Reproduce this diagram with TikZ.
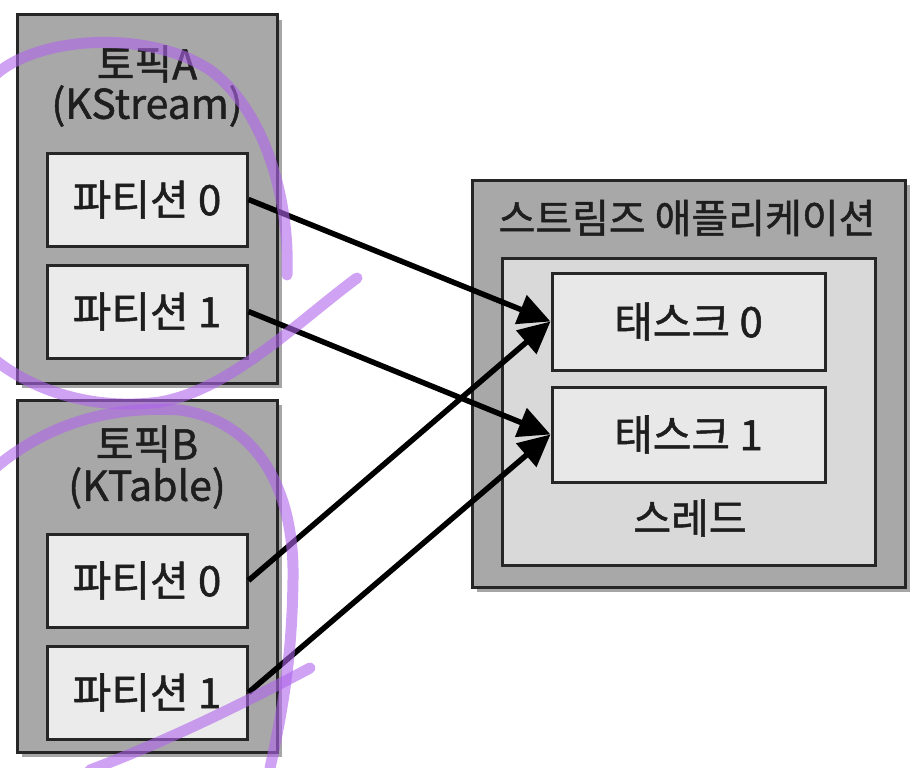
\documentclass[tikz,border=0pt]{standalone}
\usepackage{fontspec}
\setmainfont[FakeBold=1.2]{Noto Sans CJK KR}
\usetikzlibrary{shadows,arrows.meta}
\definecolor{outergray}{HTML}{A8A8A8}
\definecolor{partfill}{HTML}{EBEBEB}
\definecolor{threadfill}{HTML}{D9D9D9}
\definecolor{taskfill}{HTML}{E8E8E8}
\definecolor{txt}{HTML}{1E1E1E}
\definecolor{pen}{RGB}{175,100,235}
\tikzset{
  basebox/.style={draw=black!85, line width=3pt, inner sep=0pt},
  outerbox/.style={basebox, fill=outergray, drop shadow={shadow xshift=5pt, shadow yshift=-5pt, opacity=0.35, fill=black}},
  partbox/.style={basebox, fill=partfill, minimum width=200pt, minimum height=93pt, font=\fontsize{42}{46}\selectfont, text=txt},
  threadbox/.style={basebox, fill=threadfill},
  taskbox/.style={basebox, fill=taskfill, minimum width=273pt, font=\fontsize{42}{46}\selectfont, text=txt},
  label/.style={inner sep=0pt, font=\fontsize{41}{45}\selectfont, text=txt},
  conn/.style={line width=5.5pt, -{Triangle[length=32pt,width=30pt]}},
  penstroke/.style={pen, opacity=0.6, line width=11pt, line cap=round, line join=round}
}
\begin{document}
\begin{tikzpicture}[x=1pt,y=-1pt]
\useasboundingbox (0,0) rectangle (922,768);
\fill[white] (0,0) rectangle (922,768);
% topic A
\node[outerbox, minimum width=260pt, minimum height=368pt] (topA) at (147,199) {};
\node[label] (topAt) at (147,64) {토픽A};
\node[label] (topAk) at (147,106) {(KStream)};
\node[partbox] (a0) at (147,199.5) {파티션 0};
\node[partbox] (a1) at (147,311.5) {파티션 1};
% topic B
\node[outerbox, minimum width=260pt, minimum height=352pt] (topB) at (147,576) {};
\node[label] (topBt) at (147,444) {토픽B};
\node[label] (topBk) at (147,488) {(KTable)};
\node[partbox] (b0) at (147,580.5) {파티션 0};
\node[partbox] (b1) at (147,692.5) {파티션 1};
% application
\node[outerbox, minimum width=433pt, minimum height=407pt] (app) at (688.5,383.5) {};
\node[label, font=\fontsize{40}{44}\selectfont] (appt) at (687,218) {스트림즈 애플리케이션};
\node[threadbox, minimum width=373pt, minimum height=307pt] (thr) at (688.5,411.5) {};
\node[taskbox, minimum height=97pt] (t0) at (688.5,321.5) {태스크 0};
\node[taskbox, minimum height=95pt] (t1) at (688.5,434.5) {태스크 1};
\node[label] (thrt) at (690,518) {스레드};
% connectors
\draw[conn] (a0.east) -- (t0.west);
\draw[conn] (a1.east) -- (t1.west);
\draw[conn] (b0.east) -- (t0.west);
\draw[conn] (b1.east) -- (t1.west);
% handwritten annotation strokes
\draw[penstroke] (-5,75) .. controls (40,35) and (150,30) .. (210,70) .. controls (265,110) and (290,200) .. (287,275);
\draw[penstroke] (-5,360) .. controls (40,395) and (100,410) .. (160,402) .. controls (230,390) and (300,320) .. (357,278);
\draw[penstroke] (-5,468) .. controls (40,430) and (100,405) .. (180,410) .. controls (250,420) and (295,480) .. (293,580) .. controls (292,650) and (285,700) .. (270,768);
\draw[penstroke] (310,668) .. controls (250,700) and (170,740) .. (90,770);
\end{tikzpicture}
\end{document}
